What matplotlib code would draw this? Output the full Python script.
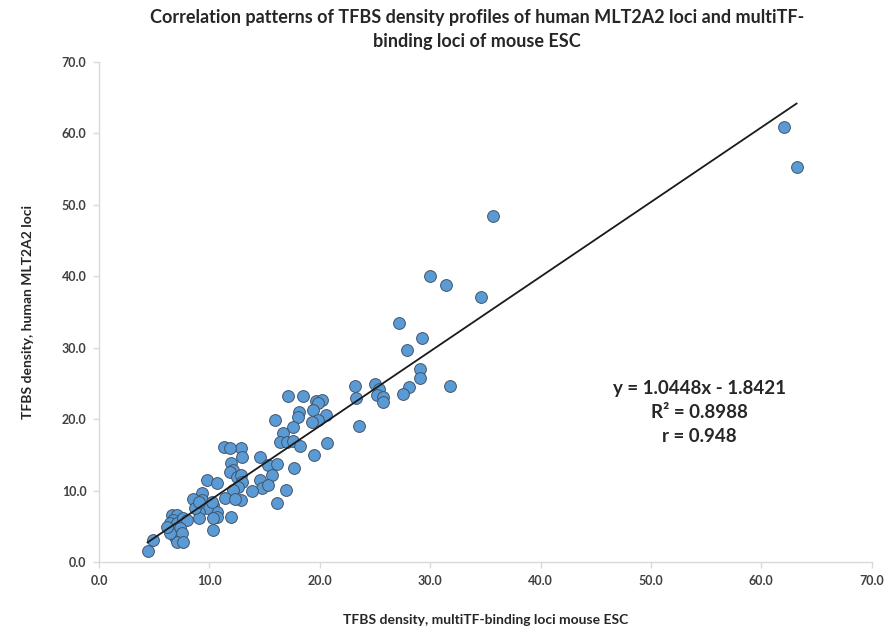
import matplotlib
matplotlib.use('Agg')
from matplotlib import pyplot as plt
import numpy as np

plt.rcParams['font.family'] = ['Lato', 'DejaVu Sans']

# TFBS density: multiTF-binding loci mouse ESC (x) vs human MLT2A2 loci (y)
mouse_esc = [62.1, 63.2, 35.7, 30.0, 31.4, 34.6, 27.2, 29.3, 27.9, 29.1,
             29.1, 28.1, 27.5, 31.8, 23.2, 23.3, 25.0, 25.4, 25.2, 25.7,
             25.7, 23.6, 17.1, 18.5, 19.7, 20.2, 19.8, 19.4, 18.1, 18.0,
             20.6, 19.8, 19.3, 15.9, 17.6, 16.7, 16.4, 17.0, 17.6, 18.2,
             20.7, 19.5, 14.6, 12.9, 11.3, 11.9, 13.0, 12.0, 12.1, 11.9,
             15.3, 16.1, 17.7, 15.7, 14.6, 14.8, 15.3, 16.9, 13.9, 16.1,
             12.9, 12.0, 9.8, 10.7, 12.5, 12.9, 13.0, 12.6, 12.1, 9.3,
             9.3, 8.5, 11.4, 12.3, 10.3, 10.7, 9.8, 9.1, 10.7, 9.1,
             10.3, 10.2, 4.4, 4.9, 6.6, 7.1, 6.7, 6.4, 7.1, 7.6,
             8.0, 6.7, 7.3, 6.9, 7.5, 7.1, 7.6, 6.4, 6.2, 8.7,
             9.1, 10.3]
human_mlt2a2 = [60.9, 55.3, 48.4, 40.0, 38.8, 37.1, 33.5, 31.4, 29.7, 27.0,
                25.8, 24.5, 23.5, 24.6, 24.6, 23.0, 24.9, 24.2, 23.4, 23.1,
                22.4, 19.0, 23.2, 23.2, 22.5, 22.7, 22.3, 21.3, 21.0, 20.3,
                20.6, 19.9, 19.6, 19.9, 18.9, 18.1, 16.8, 16.8, 16.9, 16.2,
                16.7, 15.0, 14.7, 16.0, 16.1, 16.0, 14.7, 13.9, 12.9, 12.6,
                13.6, 13.7, 13.2, 12.2, 11.5, 10.4, 10.8, 10.1, 9.9, 8.3,
                8.7, 6.3, 11.5, 11.1, 11.9, 12.2, 11.2, 10.5, 10.1, 9.7,
                8.7, 8.8, 9.0, 8.8, 8.0, 7.0, 7.6, 7.0, 6.3, 6.2,
                4.5, 8.4, 1.5, 3.1, 6.6, 6.6, 5.9, 5.5, 5.5, 6.2,
                5.9, 4.5, 4.8, 3.5, 4.1, 2.8, 2.8, 4.1, 4.9, 7.6,
                8.4, 6.2]

# linear trendline as reported on the chart
slope = 1.0448
intercept = -1.8421
r2 = 0.8988
r = 0.948

ticks = [0, 10, 20, 30, 40, 50, 60, 70]

fig = plt.figure(figsize=(8.84, 6.33), dpi=100)
ax = fig.add_axes([0.112, 0.112, 0.874, 0.790])

x = np.array(mouse_esc)
y = np.array(human_mlt2a2)
ax.scatter(x, y, s=72, color='#5B9BD5', edgecolors='#41546A', linewidths=0.7, zorder=2)

xl = np.array([x.min(), x.max()])
ax.plot(xl, slope * xl + intercept, color='#1a1a1a', lw=1.3, zorder=3)

ax.set_xlim(0, 70)
ax.set_ylim(0, 70)
ax.set_xticks(ticks)
ax.set_yticks(ticks)
ax.set_xticklabels(['%.1f' % t for t in ticks])
ax.set_yticklabels(['%.1f' % t for t in ticks])
for s in ['top', 'right']:
    ax.spines[s].set_visible(False)
for s in ['left', 'bottom']:
    ax.spines[s].set_color('#D9D9D9')
    ax.spines[s].set_linewidth(1.0)
ax.tick_params(axis='both', length=4, width=1.0, color='#D9D9D9',
               labelsize=9, labelcolor='#404040', pad=5)
for lab in ax.get_xticklabels() + ax.get_yticklabels():
    lab.set_fontweight('bold')

fig.text(0.54, 0.972, 'Correlation patterns of TFBS density profiles of human MLT2A2 loci and multiTF-',
         ha='center', va='center', fontsize=13, fontweight='bold', color='#262626')
fig.text(0.54, 0.934, 'binding loci of mouse ESC',
         ha='center', va='center', fontsize=13, fontweight='bold', color='#262626')

ax.set_xlabel('TFBS density, multiTF-binding loci mouse ESC', fontsize=10, fontweight='bold',
              color='#262626', labelpad=20)
ax.set_ylabel('TFBS density, human MLT2A2 loci', fontsize=10, fontweight='bold',
              color='#262626', labelpad=20)

eq = 'y = %.4fx - %.4f\nR² = %.4f\nr = %.3f' % (slope, -intercept, r2, r)
ax.text(54.4, 21.0, eq, ha='center', va='center', fontsize=13.5, fontweight='bold',
        color='#262626', linespacing=1.5)

fig.savefig('out.png', dpi=100)
